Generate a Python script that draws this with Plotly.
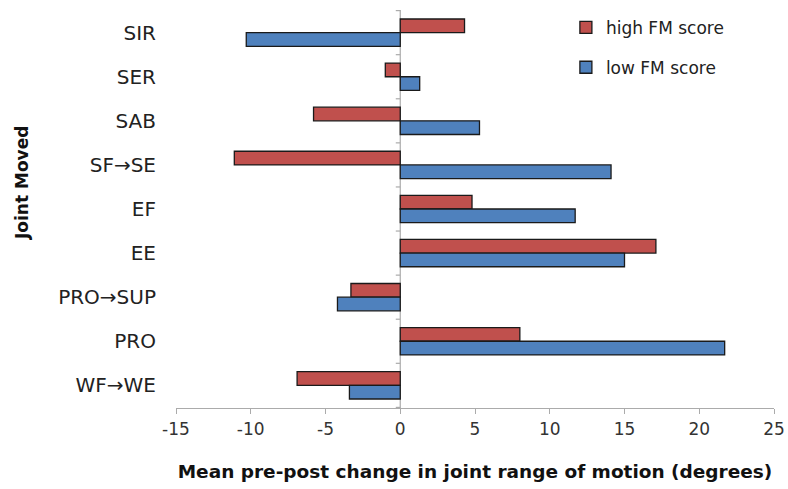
import plotly.graph_objects as go

categories = ["SIR", "SER", "SAB", "SF→SE", "EF", "EE", "PRO→SUP", "PRO", "WF→WE"]
high_fm = [4.3, -1.0, -5.8, -11.1, 4.8, 17.1, -3.3, 8.0, -6.9]
low_fm = [-10.3, 1.3, 5.3, 14.1, 11.7, 15.0, -4.2, 21.7, -3.4]
x_ticks = [-15, -10, -5, 0, 5, 10, 15, 20, 25]

RED = "#C0504D"
BLUE = "#4F81BD"
EDGE = "#1a1a1a"
AXIS = "#ababab"
FONT = "DejaVu Sans, Arial, sans-serif"

fig = go.Figure()
fig.add_trace(go.Bar(
    y=categories, x=high_fm, orientation="h", name="high FM score",
    marker=dict(color=RED, line=dict(color=EDGE, width=1.3)), legend="legend",
))
fig.add_trace(go.Bar(
    y=categories, x=low_fm, orientation="h", name="low FM score",
    marker=dict(color=BLUE, line=dict(color=EDGE, width=1.3)), legend="legend2",
))

# vertical axis line at zero with small tick marks at category boundaries
fig.add_shape(type="line", xref="x", yref="paper", x0=0, x1=0, y0=0, y1=1,
              line=dict(color=AXIS, width=1.2), layer="below")
for i in range(len(categories) + 1):
    fig.add_shape(type="line", xref="x", yref="y", x0=-0.3, x1=0,
                  y0=i - 0.5, y1=i - 0.5, line=dict(color=AXIS, width=1.2))

legend_style = dict(xanchor="left", yanchor="middle",
                    font=dict(size=17, color="#222222", family=FONT),
                    itemwidth=30, bgcolor="rgba(0,0,0,0)")

fig.update_layout(
    width=788, height=489,
    margin=dict(l=176, r=14, t=10, b=81, autoexpand=False),
    paper_bgcolor="white", plot_bgcolor="white",
    showlegend=True,
    barmode="group", bargap=0.38, bargroupgap=0.0,
    font=dict(family=FONT, color="#222222"),
    legend=dict(x=0.652, y=0.955, **legend_style),
    legend2=dict(x=0.652, y=0.855, **legend_style),
    xaxis=dict(
        range=[-15, 25], tickvals=x_ticks, ticktext=[str(v) for v in x_ticks],
        showgrid=False, zeroline=False, showline=True, linecolor=AXIS,
        linewidth=1.2, ticks="outside", ticklen=5, tickcolor=AXIS,
        tickfont=dict(size=17, color="#333333"), ticklabeloverflow="allow",
        automargin=False,
        title=dict(text="<b>Mean pre-post change in joint range of motion (degrees)</b>",
                   font=dict(size=18.5, color="#111111"), standoff=27),
    ),
    yaxis=dict(
        autorange="reversed", showgrid=False, zeroline=False, showline=False,
        ticks="", tickfont=dict(size=20, color="#222222"), ticklabelstandoff=19,
        automargin=False,
    ),
    annotations=[dict(
        text="<b>Joint Moved</b>", textangle=-90, xref="paper", yref="paper",
        x=(22 - 176) / 598, y=1 - (183 - 10) / 398, xanchor="center", yanchor="middle",
        showarrow=False, font=dict(size=17, color="#111111", family=FONT),
    )],
)

fig.write_html("out.html", config={"displayModeBar": False},
               post_script="document.body.style.margin='0px';")
